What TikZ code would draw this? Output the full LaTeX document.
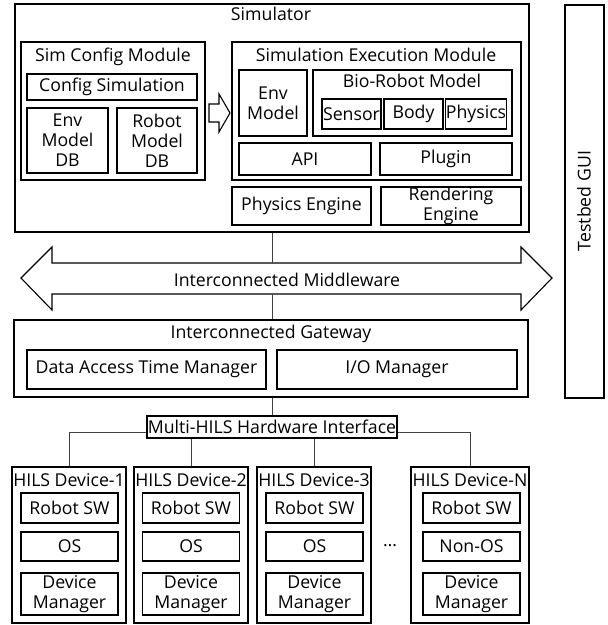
\documentclass[tikz,border=0pt]{standalone}
\usepackage{fontspec}
\setmainfont{Open Sans}
\begin{document}
\begin{tikzpicture}[x=1pt,y=-1pt,
		box/.style={draw,line width=1.1pt,inner sep=0pt,align=center,font=\fontsize{17.7}{20}\selectfont},
		ttl/.style={anchor=base,inner sep=0pt,font=\fontsize{17.7}{20}\selectfont},
		wire/.style={black!75,line width=.7pt}]
		\useasboundingbox (0,0) rectangle (608,625);

		\node[box,minimum width=514pt,minimum height=228pt] (sim) at (272,118) {};
		\node[ttl] (simt) at (271,20) {Simulator};

		\node[box,minimum width=184pt,minimum height=138pt] (cfg) at (113,111) {};
		\node[ttl] (cfgt) at (113,61) {Sim Config Module};
		\node[box,minimum width=170pt,minimum height=26pt] (cfgsim) at (112,87) {Config Simulation};
		\node[box,minimum width=81pt,minimum height=65pt] (envdb) at (67.5,140.5) {Env\\Model\\DB};
		\node[box,minimum width=80pt,minimum height=65pt] (robdb) at (157,140.5) {Robot\\Model\\DB};

		\draw[line width=1.1pt] (209,104) -- (219,104) -- (219,94) -- (230,113) -- (219,132) -- (219,122) -- (209,122) -- cycle;

		\node[box,minimum width=289pt,minimum height=138pt] (exe) at (376.5,111) {};
		\node[ttl] (exet) at (376,61) {Simulation Execution Module};
		\node[box,minimum width=68pt,minimum height=66pt] (envm) at (273,103) {Env\\Model};
		\node[box,minimum width=199pt,minimum height=66pt] (bio) at (412.5,103) {};
		\node[ttl] (biot) at (412,87) {Bio-Robot Model};
		\node[box,minimum width=59pt,minimum height=30pt] (sensor) at (351.5,114) {Sensor};
		\node[box,minimum width=59pt,minimum height=30pt] (body) at (413.5,114) {Body};
		\node[box,minimum width=58pt,minimum height=30pt] (phys) at (476,114) {Physics};
		\node[box,minimum width=132pt,minimum height=32pt] (api) at (305,159) {API};
		\node[box,minimum width=132pt,minimum height=32pt] (plugin) at (446,159) {Plugin};
		\node[box,minimum width=139pt,minimum height=38pt] (peng) at (301.5,206) {Physics Engine};
		\node[box,minimum width=140pt,minimum height=38pt] (reng) at (451,206) {Rendering\\Engine};

		\node[box,minimum width=39pt,minimum height=393pt] (gui) at (584.5,201.5) {};
		\node[ttl,anchor=center,rotate=90] (guit) at (584,201) {Testbed GUI};

		\draw[line width=1.1pt] (21,278) -- (52,247) -- (52,263) -- (521,263) -- (521,247) -- (552,278) -- (521,310) -- (521,294) -- (52,294) -- (52,310) -- cycle;
		\node[ttl] (mw) at (287,286) {Interconnected Middleware};
		\coordinate (mwt) at (272,263);
		\coordinate (mwb) at (272,294);

		\node[box,minimum width=514pt,minimum height=77pt] (gw) at (271,358.5) {};
		\node[ttl] (gwt) at (271,338) {Interconnected Gateway};
		\node[box,minimum width=239pt,minimum height=39pt] (datm) at (146.5,369.5) {Data Access Time Manager};
		\node[box,minimum width=240pt,minimum height=39pt] (iom) at (397,369.5) {I/O Manager};

		\node[box,minimum width=250pt,minimum height=22pt] (hw) at (272,427) {Multi-HILS Hardware Interface};

		\node[box,minimum width=114pt,minimum height=156pt] (dev1) at (69,545) {};
		\node[ttl] (dev1t) at (69,486) {HILS Device-1};
		\node[box,minimum width=97pt,minimum height=30pt] (sw1) at (69.5,508) {Robot SW};
		\node[box,minimum width=97pt,minimum height=29pt] (os1) at (69.5,546.5) {OS};
		\node[box,minimum width=97pt,minimum height=42pt] (dm1) at (69.5,594) {Device\\Manager};

		\node[box,minimum width=114pt,minimum height=156pt] (dev2) at (191,545) {};
		\node[ttl] (dev2t) at (191,486) {HILS Device-2};
		\node[box,minimum width=97pt,minimum height=30pt] (sw2) at (191,508) {Robot SW};
		\node[box,minimum width=97pt,minimum height=29pt] (os2) at (191,546.5) {OS};
		\node[box,minimum width=97pt,minimum height=42pt] (dm2) at (191,594) {Device\\Manager};

		\node[box,minimum width=114pt,minimum height=156pt] (dev3) at (314,545) {};
		\node[ttl] (dev3t) at (314,486) {HILS Device-3};
		\node[box,minimum width=97pt,minimum height=30pt] (sw3) at (314.5,508) {Robot SW};
		\node[box,minimum width=97pt,minimum height=29pt] (os3) at (314.5,546.5) {OS};
		\node[box,minimum width=97pt,minimum height=42pt] (dm3) at (314.5,594) {Device\\Manager};

		\node[ttl] (dots) at (390,546) {…};

		\node[box,minimum width=118pt,minimum height=156pt] (devN) at (470,545) {};
		\node[ttl] (devNt) at (470,486) {HILS Device-N};
		\node[box,minimum width=97pt,minimum height=30pt] (swN) at (471.5,508) {Robot SW};
		\node[box,minimum width=97pt,minimum height=29pt] (osN) at (471.5,546.5) {Non-OS};
		\node[box,minimum width=97pt,minimum height=42pt] (dmN) at (471.5,594) {Device\\Manager};

		\draw[wire] (sim.south) -- (mwt);
		\draw[wire] (mwb) -- (mwb |- gw.north);
		\draw[wire] (hw.north |- gw.south) -- (hw.north);
		\draw[wire] ([yshift=-5pt]hw.west) -| (dev1.north);
		\draw[wire] (hw.south -| dev2.north) -- (dev2.north);
		\draw[wire] (hw.south -| dev3.north) -- (dev3.north);
		\draw[wire] ([yshift=-5pt]hw.east) -| (devN.north);
	\end{tikzpicture}
\end{document}
